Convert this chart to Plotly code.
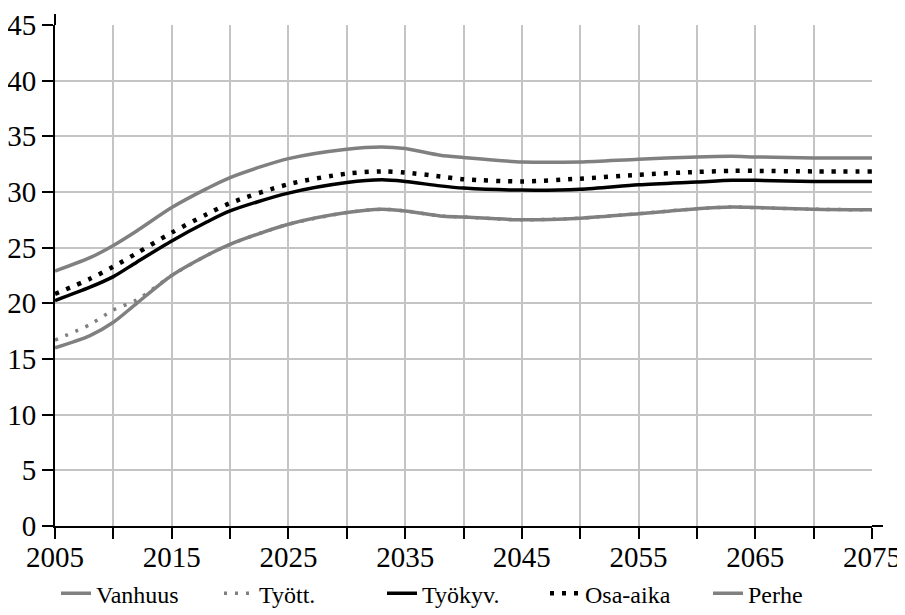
import plotly.graph_objects as go

years = [2005, 2008, 2010, 2012, 2015, 2018, 2020, 2025, 2030, 2033, 2035, 2038,
         2040, 2045, 2050, 2055, 2060, 2063, 2065, 2070, 2075]

vanhuus = [16.0, 17.1, 18.3, 20.0, 22.5, 24.3, 25.3, 27.1, 28.15, 28.45, 28.3, 27.85,
           27.75, 27.5, 27.65, 28.05, 28.5, 28.65, 28.6, 28.45, 28.4]
tyott = [16.7, 18.1, 19.4, 20.3, 22.5, 24.3, 25.3, 27.1, 28.15, 28.45, 28.3, 27.85,
         27.75, 27.5, 27.65, 28.05, 28.5, 28.65, 28.6, 28.45, 28.4]
tyokyv = [20.25, 21.45, 22.4, 23.7, 25.6, 27.3, 28.3, 29.9, 30.85, 31.1, 30.95, 30.55,
          30.35, 30.17, 30.25, 30.65, 30.9, 31.05, 31.05, 30.95, 30.95]
osa_aika = [20.85, 22.2, 23.3, 24.5, 26.35, 28.0, 29.0, 30.7, 31.65, 31.85, 31.75, 31.4,
            31.15, 30.95, 31.2, 31.55, 31.8, 31.9, 31.9, 31.85, 31.85]
perhe = [22.9, 24.1, 25.2, 26.5, 28.6, 30.3, 31.3, 33.0, 33.85, 34.05, 33.9, 33.3,
         33.1, 32.7, 32.7, 32.95, 33.15, 33.2, 33.15, 33.05, 33.05]

x_tickvals = list(range(2005, 2076, 5))
x_ticktext = [str(v) if (v - 2005) % 10 == 0 else "" for v in x_tickvals]
y_tickvals = list(range(0, 46, 5))

GRAY = "#808080"
BLACK = "#000000"
FONT = "Liberation Serif"

series = [
    ("Vanhuus", vanhuus, dict(color=GRAY, width=3.5, dash="solid")),
    ("Tyött.", tyott, dict(color=GRAY, width=3.5, dash="3px,8px")),
    ("Työkyv.", tyokyv, dict(color=BLACK, width=3.5, dash="solid")),
    ("Osa-aika", osa_aika, dict(color=BLACK, width=4.5, dash="4px,8px")),
    ("Perhe", perhe, dict(color=GRAY, width=3.5, dash="solid")),
]

fig = go.Figure()
for name, vals, line in series:
    fig.add_trace(go.Scatter(x=years, y=vals, name=name, mode="lines",
                             line=dict(shape="spline", smoothing=0.8, **line)))

# page body has an 8px margin: figure is 897x607 so that it fits the 905x615 window
fig.update_layout(
    template="none",
    width=897, height=607,
    margin=dict(l=47, r=33, t=17, b=89, autoexpand=False),
    paper_bgcolor="white", plot_bgcolor="white",
    font=dict(family=FONT, color="black", size=24),
    showlegend=True,
    legend=dict(orientation="h", x=0.5, xanchor="center", y=-0.135, yanchor="middle",
                font=dict(size=24, family=FONT, color="black"), itemwidth=30,
                entrywidth=118, entrywidthmode="pixels",
                bgcolor="rgba(0,0,0,0)"),
    xaxis=dict(range=[2005, 2075], tickmode="array", tickvals=x_tickvals, ticktext=x_ticktext,
               automargin=False,
               showgrid=True, gridcolor="#c4c4c4", gridwidth=2,
               showline=True, linecolor="black", linewidth=2,
               ticks="outside", ticklen=11, tickwidth=2, tickcolor="black",
               tickfont=dict(size=29, family=FONT, color="black"), zeroline=False),
    yaxis=dict(range=[0, 45], tickmode="array", tickvals=y_tickvals,
               automargin=False,
               showgrid=True, gridcolor="#c4c4c4", gridwidth=2,
               showline=True, linecolor="black", linewidth=2,
               ticks="outside", ticklen=11, tickwidth=2, tickcolor="black",
               tickfont=dict(size=29, family=FONT, color="black"), zeroline=False),
    shapes=[
        dict(type="line", xref="paper", yref="paper", x0=0, x1=0, y0=1, y1=1.022,
             line=dict(color="black", width=2)),
        dict(type="line", xref="paper", yref="paper", x0=1, x1=1.0135, y0=0, y1=0,
             line=dict(color="black", width=2)),
    ],
)
try:
    fig.update_xaxes(ticklabelstandoff=-7)
except Exception:
    pass

fig.write_html("out.html")
